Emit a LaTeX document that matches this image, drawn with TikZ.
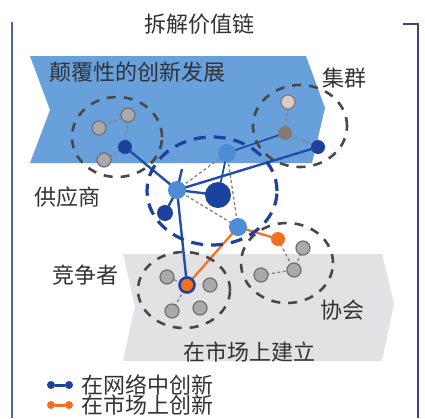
\documentclass[tikz,border=0pt]{standalone}
\usepackage{fontspec}
\newfontfamily\cjk{Noto Sans CJK SC}
\definecolor{bandblue}{RGB}{104,160,220}
\definecolor{bandgray}{RGB}{226,226,228}
\definecolor{dblue}{RGB}{28,66,158}
\definecolor{lineblue}{RGB}{34,78,170}
\definecolor{lblue}{RGB}{78,140,214}
\definecolor{orng}{RGB}{244,112,32}
\definecolor{dgray}{RGB}{72,72,76}
\definecolor{mgray}{RGB}{130,130,135}
\definecolor{nodegray}{RGB}{170,170,172}
\definecolor{nodeedge}{RGB}{110,110,115}
\definecolor{txtgray}{RGB}{50,50,55}
\definecolor{framec}{RGB}{80,105,170}
\begin{document}
\begin{tikzpicture}[x=1pt,y=-1pt,
  lbl/.style={font=\cjk\fontsize{22pt}{26pt}\selectfont, text=txtgray, inner sep=0pt},
  clus/.style={draw=dgray, line width=2.6pt, dash pattern=on 9pt off 8pt},
  bigclus/.style={draw=dblue, line width=3.2pt, dash pattern=on 12pt off 8pt},
  gdash/.style={draw=mgray, line width=1.3pt, dash pattern=on 3pt off 2.5pt},
  bline/.style={draw=lineblue, line width=2.4pt},
  oline/.style={draw=orng, line width=2.2pt},
  dot/.style={circle, inner sep=0pt, minimum size=14pt},
  gnode/.style={dot, fill=nodegray, draw=nodeedge, line width=1.2pt},
  dbnode/.style={dot, fill=dblue},
  lbnode/.style={dot, fill=lblue, minimum size=18pt},
  onode/.style={dot, fill=orng},
  ldot/.style={circle, inner sep=0pt, minimum size=8pt}
]
\fill[white] (0,0) rectangle (425,418);
\useasboundingbox (0,0) rectangle (425,418);
% frame
\draw[framec, line width=1.6pt] (12,22) -- (12,418);
\draw[framec!70!black, line width=1.6pt] (403,24) -- (418,24) -- (418,418);
\node[lbl] (title) at (199,24) {拆解价值链};
% bands
\fill[bandblue] (30,56) -- (306,56) -- (325,108) -- (312,163) -- (30,163) -- (50,110) -- cycle;
\fill[bandgray] (123,254) -- (382,254) -- (394,304) -- (382,361) -- (123,361) -- (135,306) -- cycle;
% labels
\node[lbl] (l1) at (137,72) {颠覆性的创新发展};
\node[lbl] (l2) at (344,78) {集群};
\node[lbl] (l3) at (67,197) {供应商};
\node[lbl] (l4) at (85,275) {竞争者};
\node[lbl] (l5) at (342,310) {协会};
\node[lbl] (l6) at (249,352) {在市场上建立};
% nodes (positions)
\coordinate (a1) at (99,128);
\coordinate (a2) at (128,115);
\coordinate (a3) at (104,160);
\coordinate (b1) at (125,147);
\coordinate (c1) at (288,102);
\coordinate (c2) at (285,133);
\coordinate (c3) at (318,147);
\coordinate (d1) at (177,190);
\coordinate (d2) at (218,195);
\coordinate (d3) at (165,213);
\coordinate (d4) at (227,153);
\coordinate (d5) at (238,227);
\coordinate (e1) at (278,239);
\coordinate (f1) at (303,248);
\coordinate (f2) at (294,270);
\coordinate (f3) at (261,275);
\coordinate (g0) at (187,285);
\coordinate (g1) at (167,277);
\coordinate (g2) at (210,285);
\coordinate (g3) at (172,311);
\coordinate (g4) at (200,308);
\coordinate (sp) at (182,169);
% dashed gray links
\draw[gdash] (a1) -- (a2);
\draw[gdash] (a2) -- (b1);
\draw[gdash] (b1) -- (a3);
\draw[gdash] (c1) -- (c2);
\draw[gdash] (c2) -- (c3);
\draw[gdash] (d1) -- (d4);
\draw[gdash] (d1) -- (d5);
\draw[gdash] (d4) -- (d5);
\draw[gdash] (e1) -- (f2);
\draw[gdash] (f1) -- (f2);
\draw[gdash] (f3) -- (f2);
\draw[gdash] (g0) -- (g1);
\draw[gdash] (g0) -- (g3);
% solid blue links
\draw[bline] (b1) -- (d1);
\draw[bline] (d1) -- (c3);
\draw[bline, line width=1.8pt] (d4) -- (c2);
\draw[bline, line width=1.8pt] (d4) -- (d2);
\draw[bline] (d1) -- (d2);
\draw[bline] (d1) -- (d3);
\draw[bline] (d1) -- (g0);
\draw[bline] (d1) -- (sp);
% orange links
\draw[oline] (d5) -- (e1);
\draw[oline] (d5) -- (g0);
% dashed clusters
\draw[clus] (117,137) ellipse [x radius=45pt, y radius=40pt];
\draw[clus] (300,126) ellipse [x radius=47pt, y radius=41pt];
\draw[clus] (184,290) ellipse [x radius=46pt, y radius=38pt];
\draw[clus] (287,263) ellipse [x radius=46pt, y radius=40pt];
\draw[bigclus] (212,191) ellipse [x radius=65pt, y radius=54pt];
% node discs
\node[gnode] (na1) at (a1) {};
\node[gnode] (na2) at (a2) {};
\node[gnode] (na3) at (a3) {};
\node[dbnode] (nb1) at (b1) {};
\node[dot, fill={rgb,255:red,218;green,204;blue,200}, draw={rgb,255:red,140;green,125;blue,115}, line width=1.2pt] (nc1) at (c1) {};
\node[dot, fill={rgb,255:red,132;green,122;blue,112}] (nc2) at (c2) {};
\node[dbnode] (nc3) at (c3) {};
\node[lbnode] (nd1) at (d1) {};
\node[dbnode, minimum size=26pt] (nd2) at (d2) {};
\node[dbnode, minimum size=16pt] (nd3) at (d3) {};
\node[lbnode] (nd4) at (d4) {};
\node[lbnode] (nd5) at (d5) {};
\node[onode] (ne1) at (e1) {};
\node[gnode] (nf1) at (f1) {};
\node[gnode] (nf2) at (f2) {};
\node[gnode] (nf3) at (f3) {};
\node[gnode] (ng1) at (g1) {};
\node[gnode] (ng2) at (g2) {};
\node[gnode] (ng3) at (g3) {};
\node[gnode] (ng4) at (g4) {};
\node[onode, draw=dblue, line width=2.6pt, minimum size=15pt] (ng0) at (g0) {};
% legend
\node[ldot, fill=dblue] (lb1) at (51,385) {};
\node[ldot, fill=dblue] (lb2) at (69,385) {};
\draw[dblue, line width=3pt] (lb1) -- (lb2);
\node[ldot, fill=orng] (lo1) at (51,405) {};
\node[ldot, fill=orng] (lo2) at (69,405) {};
\draw[orng, line width=3pt] (lo1) -- (lo2);
\node[lbl, anchor=west] (t1) at (81,385) {在网络中创新};
\node[lbl, anchor=west] (t2) at (81,405) {在市场上创新};
\end{tikzpicture}
\end{document}
